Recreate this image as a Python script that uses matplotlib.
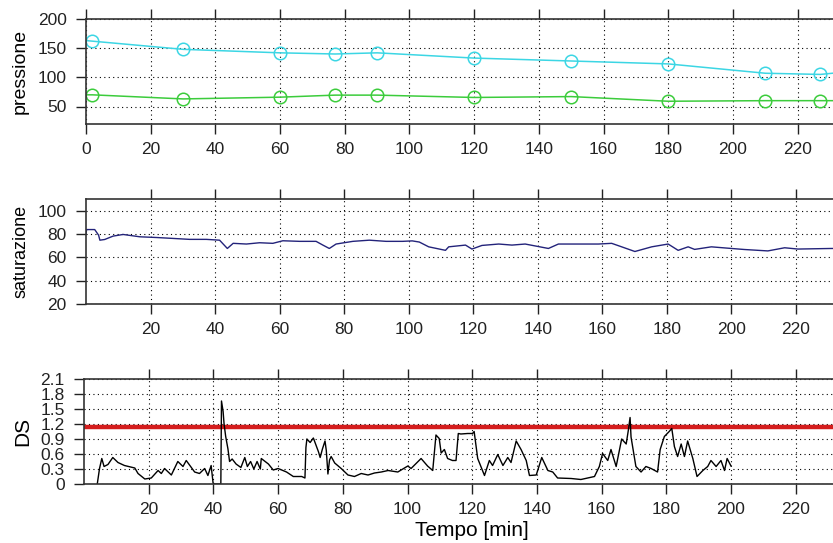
import numpy as np
import matplotlib.pyplot as plt

plt.rcParams['font.family'] = ['Liberation Sans', 'DejaVu Sans']

# pressione: misure (marker) e valori ai bordi del grafico
t_p = [2, 30, 60, 77, 90, 120, 150, 180, 210, 227]
sist = [162, 148, 142, 140, 142, 133, 128, 123, 107, 105]
diast = [70, 63, 66, 69.5, 69.5, 65.5, 67, 59, 60, 60]
sist_bordi = [163, 112]
diast_bordi = [70, 60]

# saturazione
t_sat = [0, 0.2, 2.7, 3.9, 4.3, 5.8, 8.4, 11.5, 16.7, 21.8, 27, 32.1, 37.3, 41.4, 43.8,
         45.6, 49.7, 53.8, 57.9, 61, 66.2, 71.3, 73.4, 75.4, 77.5, 82.7, 87.8, 93,
         98.1, 101.1, 103.3, 106.2, 111.4, 112.4, 117.6, 119.6, 122.7, 127.9, 132,
         136.1, 143.3, 146.4, 152.6, 158.8, 162.9, 166, 170.1, 175.3, 180.4, 183.5,
         186.6, 188.6, 193.8, 200, 204.1, 211.3, 216.5, 220.6, 231, 240]
sat = [80.4, 83.8, 83.8, 79, 74.7, 75.3, 78.2, 79.6, 77.6, 77, 76.2, 75.4, 75.4, 74.7, 67.6,
       72, 71.4, 72.5, 72, 74.2, 73.7, 73.7, 70.5, 67.6, 71.4, 73.7, 74.7, 73.7,
       73.7, 74.1, 73.1, 69, 66, 69, 70.5, 67.1, 70.2, 71.4, 70.5,
       71.4, 67.6, 71.4, 71.4, 71.4, 72, 69, 65, 69, 71.4, 66,
       69, 66.8, 69, 67.6, 66.7, 65.5, 68.2, 67.1, 67.6, 67.6]

# DS
t_ds = [4.1, 4.8, 5.5, 6.2, 7.4, 8.9, 10.5, 12.5, 15.7, 16.7, 18.8, 20.8, 22.9, 23.9, 24.9,
        27, 29, 30.6, 31.6, 34.2, 35.7, 37.3, 38.3, 39.3, 39.9, 40.4, 42.3, 42.5, 43.0,
        43.3, 43.8, 44.5, 45, 45.8, 47, 48.5, 49.7, 50.5, 51.5, 52.5, 53.5, 54.5, 54.8,
        57, 58.5, 60, 62.6, 64.7, 67.3, 68.3, 68.6, 68.9, 69.9, 70.9, 72.5, 73, 73.7,
        74.5, 74.9, 75.4, 75.9, 76.4, 77.5, 79.5, 81.6, 83.6, 85.7, 87.8, 89.8, 91.9,
        94, 97, 100.1, 101.1, 104.2, 106.2, 107.8, 108.8, 109.8, 110.4, 111.4, 112.4,
        113.9, 115, 115.7, 116.5, 118.6, 120.1, 120.6, 121.7, 123.8, 125.3, 126.3,
        127.9, 129.5, 131, 132, 133.6, 135.1, 136.7, 137.7, 139.8, 141.5, 143.4, 144.9,
        146.4, 150.6, 153.6, 157.8, 159.3, 160.3, 161.9, 162.9, 164.5, 166.2, 167.6,
        168.3, 168.8, 169.1, 170.6, 172.2, 173.7, 175.3, 177.3, 178.1, 179.4, 180.9,
        181.7, 182.5, 183.5, 184.6, 185.6, 186.6, 188.2, 189.5, 191.3, 192.8, 193.8,
        195.4, 196.9, 198, 198.8, 200]
ds = [0, 0.31, 0.51, 0.35, 0.39, 0.53, 0.43, 0.37, 0.32, 0.21, 0.1, 0.12, 0.27, 0.21, 0.31,
      0.18, 0.45, 0.35, 0.47, 0.24, 0.21, 0.31, 0.17, 0.37, 0.02, 0, 0, 1.66, 1.45,
      1.2, 0.95, 0.7, 0.45, 0.5, 0.4, 0.33, 0.53, 0.35, 0.45, 0.3, 0.45, 0.3, 0.51,
      0.4, 0.28, 0.31, 0.24, 0.15, 0.15, 0.12, 0.73, 0.9, 0.83, 0.92, 0.64, 0.53, 0.7,
      0.86, 0.67, 0.2, 0.48, 0.55, 0.42, 0.31, 0.18, 0.15, 0.21, 0.18, 0.22, 0.24,
      0.27, 0.24, 0.36, 0.31, 0.51, 0.36, 0.27, 0.98, 0.91, 0.62, 0.69, 0.51,
      0.47, 0.47, 1.01, 1.0, 1.01, 1.01, 1.05, 0.51, 0.17, 0.47, 0.37,
      0.59, 0.37, 0.53, 0.43, 0.86, 0.69, 0.47, 0.17, 0.18, 0.53, 0.27, 0.24,
      0.12, 0.11, 0.09, 0.15, 0.35, 0.61, 0.47, 0.69, 0.35, 0.9, 0.8,
      1.09, 1.33, 0.94, 0.35, 0.24, 0.35, 0.31, 0.24, 0.69, 0.95, 1.05,
      1.11, 0.75, 0.55, 0.8, 0.55, 0.86, 0.51, 0.15, 0.27, 0.35, 0.47,
      0.35, 0.47, 0.27, 0.51, 0.36]
soglia = 1.15

xticks_all = np.arange(0, 221, 20)
W, H = 833, 543

fig = plt.figure(figsize=(W / 100, H / 100), dpi=100)


def make_ax(left, top, bottom, x0):
    # posizioni in pixel -> frazioni; l'asse continua oltre il bordo destro
    ax = fig.add_axes([left / W, 1 - bottom / H, 240 * 3.235 / W, (bottom - top) / H])
    ax.set_xlim(x0, x0 + 240)
    ax.set_xticks(xticks_all)
    ax.tick_params(direction='out', length=7, width=1, top=True, right=True,
                   labelsize=12.5, colors='#222222', pad=6)
    ax.tick_params(axis='y', pad=7)
    ax.grid(True, linestyle=(0, (1, 3)), color='black', linewidth=0.8)
    for s in ax.spines.values():
        s.set_color('#333333')
        s.set_linewidth(1.2)
    return ax


# pressione
ax1 = make_ax(86, 19, 124, 0)
ax1.plot([0] + t_p + [240], [sist_bordi[0]] + sist + [sist_bordi[1]], color='#3cd6e4', lw=1.1)
ax1.plot([0] + t_p + [240], [diast_bordi[0]] + diast + [diast_bordi[1]], color='#3ccc3c', lw=1.1)
ax1.plot(t_p, sist, 'o', mfc='none', mec='#3cd6e4', ms=9, mew=1.1)
ax1.plot(t_p, diast, 'o', mfc='none', mec='#3ccc3c', ms=9, mew=1.1)
ax1.set_ylim(20, 200)
ax1.set_yticks([50, 100, 150, 200])
ax1.set_ylabel('pressione', fontsize=14, labelpad=6)

# saturazione
ax2 = make_ax(86, 199, 304, 0.6)
ax2.plot(t_sat, sat, color='#23237a', lw=1.0)
ax2.set_ylim(20, 110)
ax2.set_yticks([20, 40, 60, 80, 100])
ax2.set_xticks(xticks_all[1:])
ax2.set_ylabel('saturazione', fontsize=13, labelpad=6)

# DS
ax3 = make_ax(84, 379, 484, 0)
ax3.axhline(soglia, color='#d41c1c', lw=3.2)
ax3.plot(t_ds, ds, color='black', lw=1.0)
ax3.set_ylim(0, 2.1)
ax3.set_yticks([0, 0.3, 0.6, 0.9, 1.2, 1.5, 1.8, 2.1])
ax3.set_yticklabels(['0', '0.3', '0.6', '0.9', '1.2', '1.5', '1.8', '2.1'])
ax3.set_xticks(xticks_all[1:])
ax3.set_ylabel('DS', fontsize=15, labelpad=6)
ax3.set_xlabel('Tempo [min]', fontsize=15, labelpad=3)

fig.savefig('out.png', dpi=100)
